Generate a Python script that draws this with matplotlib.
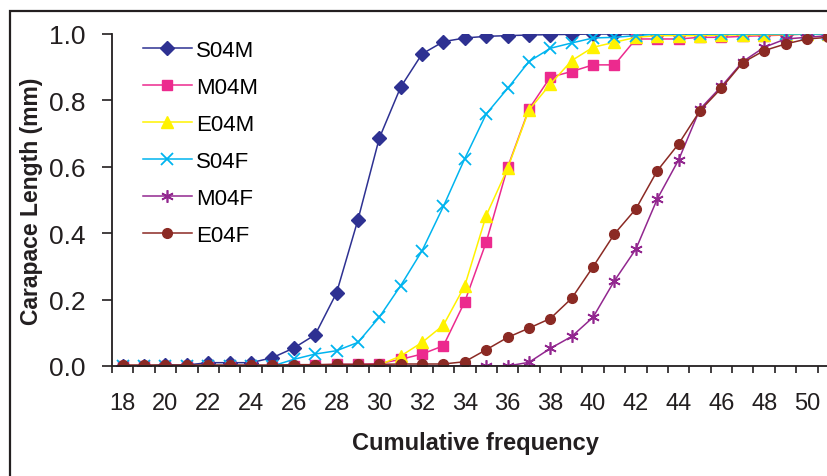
import matplotlib
matplotlib.use('Agg')
from matplotlib import pyplot as plt
from matplotlib.patches import Rectangle
import numpy as np

plt.rcParams['font.family'] = ['Liberation Sans', 'DejaVu Sans']

# 数据：横坐标 18~51
x = list(range(18, 52))

s04m = [0, 0, 0.003, 0.003, 0.01, 0.01, 0.01, 0.025, 0.054, 0.094, 0.22, 0.44, 0.686, 0.84,
        0.94, 0.977, 0.988, 0.993, 0.995, 0.997, 0.998, 0.999, 1.0, 1.0,
        1.0, 1.0, 1.0, 1.0, 1.0, 1.0, 1.0, 1.0, 1.0, 1.0]
m04m = [0, 0, 0, 0, 0, 0, 0, 0, 0, 0.003, 0.005, 0.005, 0.007, 0.02,
        0.036, 0.061, 0.194, 0.373, 0.598, 0.774, 0.87, 0.887, 0.907, 0.907,
        0.985, 0.985, 0.985, 0.99, 0.99, 0.993, 0.995, 0.997, 1.0, 1.0]
e04m = [0, 0, 0, 0, 0, 0, 0, 0, 0, 0, 0, 0, 0.003, 0.03,
        0.071, 0.123, 0.242, 0.453, 0.595, 0.771, 0.849, 0.92, 0.96, 0.975,
        0.99, 0.995, 0.995, 0.995, 0.997, 0.997, 0.998, 0.998, 1.0, 1.0]
s04f = [0, 0, 0, 0, 0, 0, 0, 0, 0.02, 0.036, 0.046, 0.071, 0.147, 0.242,
        0.347, 0.481, 0.625, 0.759, 0.836, 0.917, 0.957, 0.973, 0.988, 0.99,
        0.995, 1.0, 1.0, 1.0, 1.0, 1.0, 1.0, 1.0, 1.0, 1.0]
m04f = [0, 0, 0, 0, 0, 0, 0, 0, 0, 0, 0, 0, 0, 0,
        0, 0, 0, 0, 0, 0.011, 0.053, 0.089, 0.147, 0.257,
        0.352, 0.503, 0.621, 0.774, 0.842, 0.917, 0.96, 0.985, 0.99, 0.995]
e04f = [0.003, 0.003, 0.003, 0.003, 0.003, 0.003, 0.003, 0.003, 0.004, 0.004, 0.005, 0.005, 0.005, 0.006,
        0.006, 0.006, 0.013, 0.049, 0.086, 0.114, 0.143, 0.204, 0.299, 0.398,
        0.473, 0.588, 0.669, 0.769, 0.837, 0.914, 0.95, 0.97, 0.985, 0.99]

fig = plt.figure(figsize=(8.28, 4.77), dpi=100)
ax = fig.add_axes([112 / 828, 110 / 477, (839 - 112) / 828, 332 / 477])

lw = 1.1
ax.plot(x, s04m, '-', marker='D', color='#2E3192', lw=lw, ms=7, label='S04M')
ax.plot(x, m04m, '-', marker='s', color='#EC2A8E', lw=lw, ms=7, label='M04M')
ax.plot(x, e04m, '-', marker='^', color='#FFF200', lw=lw, ms=8, label='E04M')
ax.plot(x, s04f, '-', marker='x', color='#00B4EF', lw=lw, ms=8, mew=1.3, label='S04F')
ax.plot(x, m04f, '-', marker=(6, 2, 0), color='#92278F', lw=lw, ms=9, mew=1.2, label='M04F')
ax.plot(x, e04f, '-', marker='o', color='#8B2A24', lw=lw, ms=7, label='E04F')

ax.set_xlim(17.5, 51.5)
ax.set_ylim(0, 1.0)
ax.spines['top'].set_visible(False)
ax.spines['right'].set_visible(False)
for sp in ['left', 'bottom']:
    ax.spines[sp].set_linewidth(1.3)
    ax.spines[sp].set_color('#231F20')

ax.set_xticks(np.arange(18, 51, 2))
ax.set_xticks(np.arange(17.5, 52, 1), minor=True)
ax.tick_params(axis='x', which='major', length=0, pad=19, labelsize=17, colors='#231F20')
ax.tick_params(axis='x', which='minor', length=5, width=1.2, direction='out', color='#231F20')
ax.set_yticks(np.arange(0, 1.01, 0.2))
ax.set_yticklabels(['%.1f' % v for v in np.arange(0, 1.01, 0.2)])
ax.tick_params(axis='y', length=7, width=1.2, pad=12, labelsize=19, colors='#231F20')

ax.set_xlabel('Cumulative frequency', fontsize=17, fontweight='bold', color='#231F20', labelpad=12)
ax.set_ylabel('Carapace Length (mm)', fontsize=16.5, fontweight='bold', color='#231F20')
ax.yaxis.set_label_coords(-(112 - 43) / 727, 0.5)

ax.legend(loc='upper left', bbox_to_anchor=(0.015, 1.043), frameon=False, fontsize=16,
          handlelength=2.2, labelspacing=0.72, handletextpad=0.2)

# 外框
fig.patches.append(Rectangle((10 / 828, -0.1), 1.2, 1 - 12 / 477 + 0.1, transform=fig.transFigure,
                             fill=False, lw=1.6, ec='#231F20'))

plt.savefig('out.png', dpi=100)
